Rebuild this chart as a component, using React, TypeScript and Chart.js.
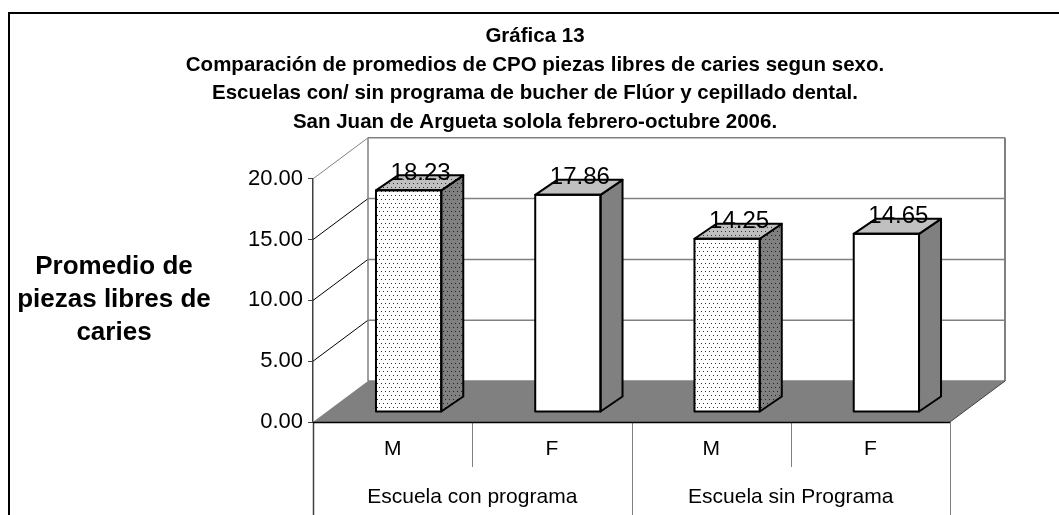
import React, { useEffect, useRef } from 'react';
import { Chart, registerables } from 'chart.js';

Chart.register(...registerables);

const TITLE_LINES = [
  'Gráfica 13',
  'Comparación de promedios de CPO piezas libres de caries segun sexo.',
  'Escuelas con/ sin programa de bucher de Flúor y cepillado dental.',
  'San Juan de Argueta solola febrero-octubre 2006.',
];
const Y_TITLE_LINES = ['Promedio de', 'piezas libres de', 'caries'];
const CATEGORIES = ['M', 'F', 'M', 'F'];
const GROUPS = ['Escuela con programa', 'Escuela sin Programa'];
const VALUES = [18.23, 17.86, 14.25, 14.65];
const DOTTED = [true, false, true, false];
const Y_MIN = 0;
const Y_MAX = 20;
const Y_STEP = 5;

const FONT = "'Liberation Sans', Arial, sans-serif";
const DEPTH = { dx: 55, dy: -41 };
const BAR_SHIFT = { dx: 16, dy: -10 };
const BAR_DEPTH = { dx: 22, dy: -15 };

function makePattern(bg: string, dot: string): CanvasPattern | string {
  const c = document.createElement('canvas');
  c.width = 8;
  c.height = 8;
  const g = c.getContext('2d');
  if (!g) return bg;
  g.fillStyle = bg;
  g.fillRect(0, 0, 8, 8);
  g.fillStyle = dot;
  [[1, 1], [5, 1], [3, 5], [7, 5]].forEach(([x, y]) => g.fillRect(x, y, 1, 1));
  return g.createPattern(c, 'repeat') || bg;
}

export default function App() {
  const ref = useRef<HTMLCanvasElement>(null);

  useEffect(() => {
    const canvas = ref.current;
    if (!canvas) return;

    const frontDots = makePattern('#ffffff', '#333333');
    const topDots = makePattern('#c0c0c0', '#333333');
    const sideDots = makePattern('#808080', '#222222');

    const threeD = {
      id: 'threeD',
      beforeDatasetsDraw(chart: any) {
        const { ctx, chartArea: a, scales } = chart;
        const y = scales.y;
        const L = a.left;
        const R = a.right;
        const B = y.getPixelForValue(Y_MIN);
        const T = y.getPixelForValue(Y_MAX);
        ctx.save();
        // floor
        ctx.fillStyle = '#808080';
        ctx.beginPath();
        ctx.moveTo(L, B);
        ctx.lineTo(L + DEPTH.dx, B + DEPTH.dy);
        ctx.lineTo(R + DEPTH.dx, B + DEPTH.dy);
        ctx.lineTo(R, B);
        ctx.closePath();
        ctx.fill();
        // back wall gridlines + left wall diagonals
        y.ticks.forEach((t: any) => {
          const v = t.value;
          const py = y.getPixelForValue(v);
          ctx.lineWidth = 1.5;
          ctx.strokeStyle = '#808080';
          ctx.beginPath();
          ctx.moveTo(L + DEPTH.dx, py + DEPTH.dy);
          ctx.lineTo(R + DEPTH.dx, py + DEPTH.dy);
          ctx.stroke();
          if (v > Y_MIN) {
            ctx.lineWidth = 1;
            ctx.strokeStyle = v === Y_MAX ? '#808080' : '#000000';
            ctx.beginPath();
            ctx.moveTo(L, py);
            ctx.lineTo(L + DEPTH.dx, py + DEPTH.dy);
            ctx.stroke();
          }
        });
        ctx.strokeStyle = '#808080';
        ctx.lineWidth = 1.5;
        ctx.beginPath();
        ctx.moveTo(L + DEPTH.dx, T + DEPTH.dy);
        ctx.lineTo(L + DEPTH.dx, B + DEPTH.dy);
        ctx.stroke();
        ctx.lineWidth = 2;
        ctx.beginPath();
        ctx.moveTo(R + DEPTH.dx, T + DEPTH.dy);
        ctx.lineTo(R + DEPTH.dx, B + DEPTH.dy);
        ctx.stroke();
        // floor right edge
        ctx.strokeStyle = '#404040';
        ctx.lineWidth = 1;
        ctx.beginPath();
        ctx.moveTo(R, B);
        ctx.lineTo(R + DEPTH.dx, B + DEPTH.dy);
        ctx.stroke();
        ctx.restore();
        // shift bars to their depth plane
        ctx.save();
        ctx.translate(BAR_SHIFT.dx, BAR_SHIFT.dy);
      },
      afterDatasetsDraw(chart: any) {
        const { ctx } = chart;
        const meta = chart.getDatasetMeta(0);
        meta.data.forEach((bar: any, i: number) => {
          const p = bar.getProps(['x', 'y', 'base', 'width'], true);
          const l = p.x - p.width / 2;
          const r = p.x + p.width / 2;
          const top = p.y;
          const bot = p.base;
          ctx.save();
          ctx.lineWidth = 2;
          ctx.strokeStyle = '#000000';
          ctx.lineJoin = 'round';
          // side face
          ctx.fillStyle = DOTTED[i] ? sideDots : '#808080';
          ctx.beginPath();
          ctx.moveTo(r, top);
          ctx.lineTo(r + BAR_DEPTH.dx, top + BAR_DEPTH.dy);
          ctx.lineTo(r + BAR_DEPTH.dx, bot + BAR_DEPTH.dy);
          ctx.lineTo(r, bot);
          ctx.closePath();
          ctx.fill();
          ctx.stroke();
          // top face
          ctx.fillStyle = DOTTED[i] ? topDots : '#c0c0c0';
          ctx.beginPath();
          ctx.moveTo(l, top);
          ctx.lineTo(l + BAR_DEPTH.dx, top + BAR_DEPTH.dy);
          ctx.lineTo(r + BAR_DEPTH.dx, top + BAR_DEPTH.dy);
          ctx.lineTo(r, top);
          ctx.closePath();
          ctx.fill();
          ctx.stroke();
          // front outline
          ctx.strokeRect(l, top, r - l, bot - top);
          // value label
          ctx.fillStyle = '#000000';
          ctx.font = `24px ${FONT}`;
          ctx.textAlign = 'center';
          ctx.textBaseline = 'middle';
          ctx.fillText(VALUES[i].toFixed(2), p.x + 12, top - 17);
          ctx.restore();
        });
        ctx.restore();
      },
      afterDraw(chart: any) {
        const { ctx, chartArea: a, scales } = chart;
        const y = scales.y;
        const L = a.left;
        const R = a.right;
        const B = y.getPixelForValue(Y_MIN);
        const H = chart.height;
        const W = chart.width;
        const cw = (R - L) / CATEGORIES.length;
        ctx.save();
        // outer frame
        ctx.strokeStyle = '#000000';
        ctx.lineWidth = 2;
        ctx.beginPath();
        ctx.moveTo(9, H);
        ctx.lineTo(9, 13);
        ctx.lineTo(W, 13);
        ctx.stroke();
        // category table lines
        for (let i = 0; i <= CATEGORIES.length; i++) {
          const px = Math.round(L + i * cw) + 0.5;
          ctx.strokeStyle = i === 0 ? '#404040' : '#808080';
          ctx.lineWidth = i === 0 ? 1.5 : 1;
          ctx.beginPath();
          ctx.moveTo(px, B);
          ctx.lineTo(px, i % 2 === 0 ? H : 467);
          ctx.stroke();
        }
        // front floor edge
        ctx.strokeStyle = '#000000';
        ctx.lineWidth = 1.5;
        ctx.beginPath();
        ctx.moveTo(L, B + 0.5);
        ctx.lineTo(R, B + 0.5);
        ctx.stroke();
        // group labels
        ctx.fillStyle = '#000000';
        ctx.font = `21px ${FONT}`;
        ctx.textAlign = 'center';
        ctx.textBaseline = 'middle';
        const per = CATEGORIES.length / GROUPS.length;
        GROUPS.forEach((g, gi) => {
          const cx = L + (gi * per + per / 2) * cw;
          ctx.fillText(g, cx, 497);
        });
        // y axis title
        ctx.font = `bold 26px ${FONT}`;
        Y_TITLE_LINES.forEach((t, i) => {
          ctx.fillText(t, 114, 267 + i * 33);
        });
        ctx.restore();
      },
    };

    const chart = new Chart(canvas, {
      type: 'bar',
      data: {
        labels: CATEGORIES,
        datasets: [
          {
            data: VALUES,
            backgroundColor: DOTTED.map((d) => (d ? frontDots : '#ffffff')) as any,
            borderColor: '#000000',
            borderWidth: 0,
            barPercentage: 0.41,
            categoryPercentage: 1,
            clip: false as any,
          },
        ],
      },
      options: {
        responsive: false,
        animation: false,
        layout: { padding: { left: 120, right: 109, top: 0, bottom: 0 } },
        plugins: {
          legend: { display: false },
          tooltip: { enabled: false },
          title: {
            display: true,
            text: TITLE_LINES,
            color: '#000000',
            font: { size: 20.5, weight: 'bold', family: FONT, lineHeight: 1.4 },
            padding: { top: 22, bottom: 42 },
          },
        },
        scales: {
          x: {
            type: 'category',
            offset: true,
            grid: { display: false, drawTicks: false },
            border: { display: false },
            ticks: {
              color: '#000000',
              font: { size: 21, family: FONT },
              padding: 15,
              maxRotation: 0,
              autoSkip: false,
            },
            afterFit: (s: any) => {
              s.height = 93;
            },
          },
          y: {
            min: Y_MIN,
            max: Y_MAX,
            ticks: {
              stepSize: Y_STEP,
              callback: (v: any) => Number(v).toFixed(2),
              color: '#000000',
              font: { size: 22, family: FONT },
              padding: 5,
            },
            grid: { drawOnChartArea: false, drawTicks: true, tickLength: 5, color: '#404040' },
            border: { display: true, color: '#404040', width: 1.5 },
            afterFit: (s: any) => {
              s.width = 193;
            },
          },
        },
      } as any,
      plugins: [threeD],
    });

    return () => chart.destroy();
  }, []);

  return (
    <div style={{ position: 'fixed', left: 0, top: 0, width: 1059, height: 515, background: '#ffffff' }}>
      <canvas ref={ref} width={1059} height={515} style={{ display: 'block', width: 1059, height: 515 }} />
    </div>
  );
}
